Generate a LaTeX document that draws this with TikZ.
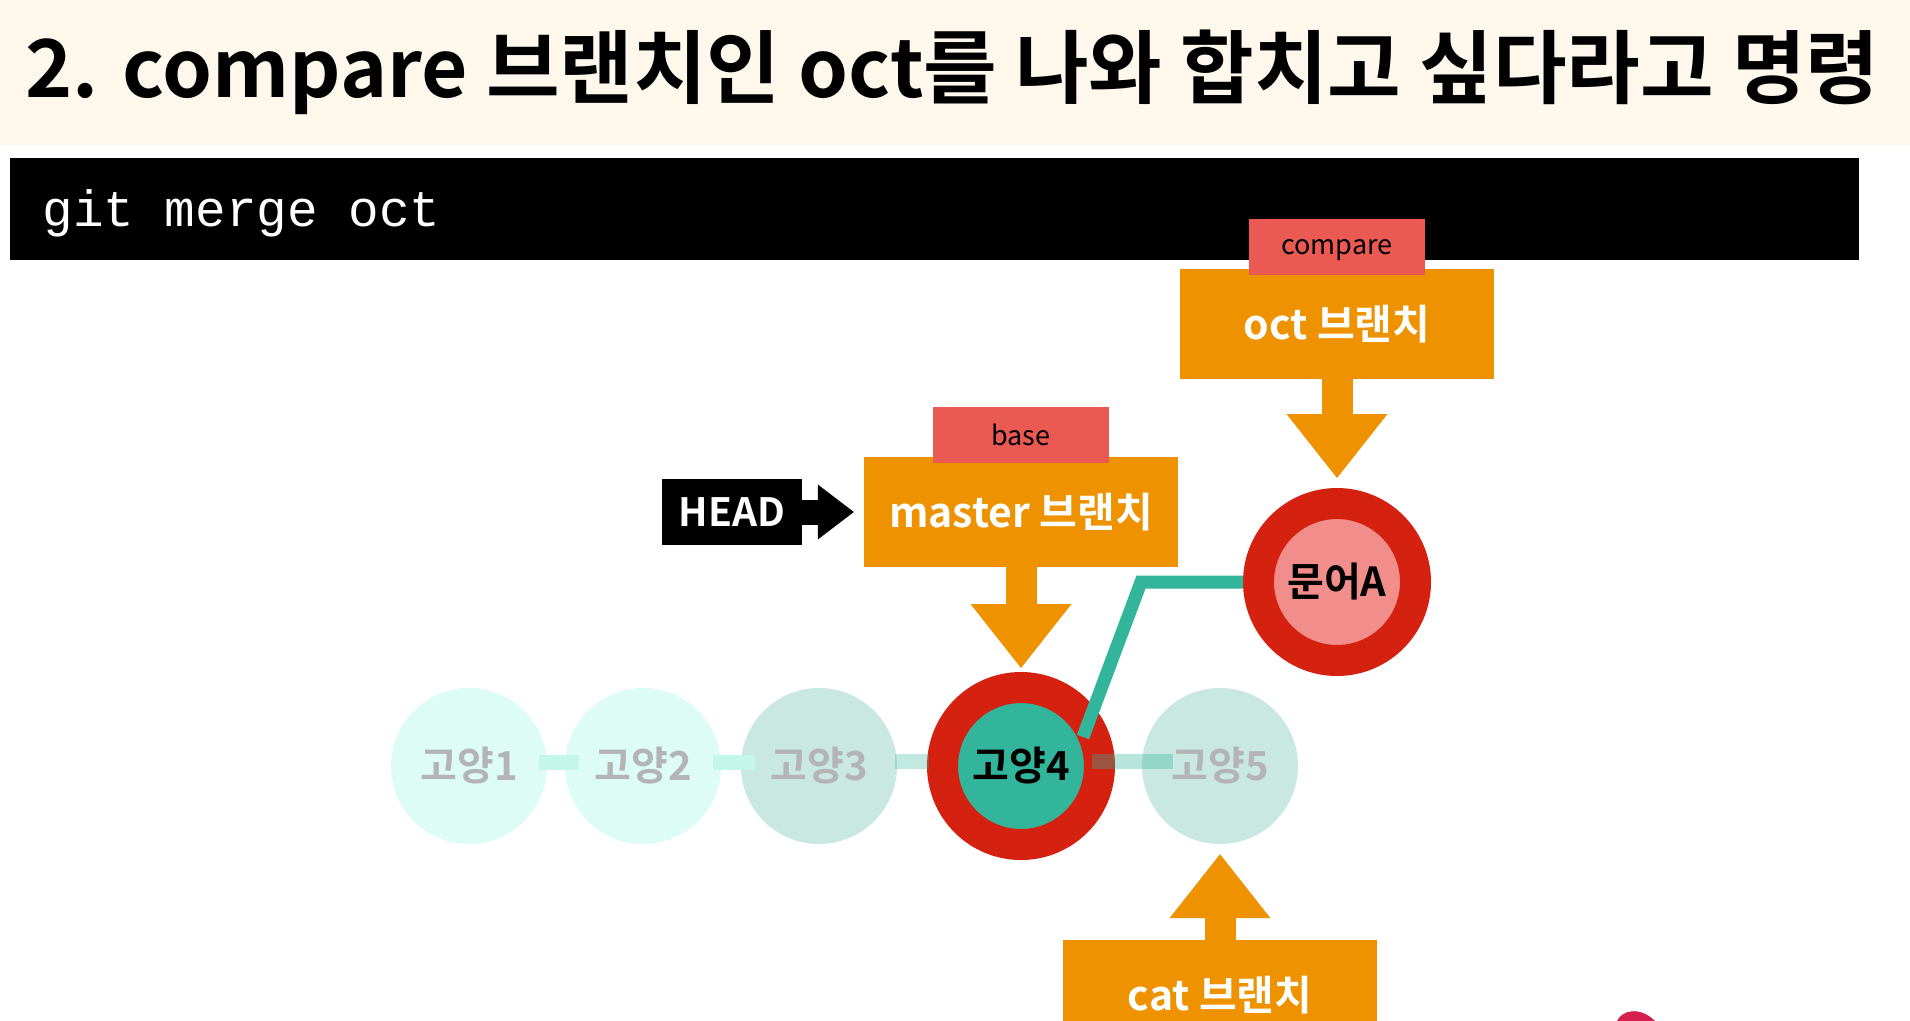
\documentclass[tikz,border=0pt]{standalone}
\usepackage{fontspec}
\setmainfont{Noto Sans CJK KR}[BoldFont={Noto Sans CJK KR Bold}]
\newfontfamily\codefont{Liberation Mono}
\usepackage{tikz}
\usetikzlibrary{positioning,arrows.meta}
\definecolor{cream}{HTML}{FEF8EC}
\definecolor{branchorange}{HTML}{EF9200}
\definecolor{rolered}{HTML}{EB5A52}
\definecolor{ringred}{HTML}{D52110}
\definecolor{mergeteal}{HTML}{33B59C}
\definecolor{octopink}{HTML}{F18D8A}
\definecolor{oldmint}{HTML}{DCFCF5}
\definecolor{fadeteal}{HTML}{C9E8E1}
\definecolor{fadegray}{HTML}{B4B4B4}
\definecolor{linkmint}{HTML}{C3F7EA}
\definecolor{logored}{HTML}{D61F4F}
\tikzstyle{commit} = [circle, inner sep=0pt, minimum size=156pt, font={\bfseries\fontsize{40}{48}\selectfont}]
\tikzstyle{old} = [fill=oldmint, text=fadegray]
\tikzstyle{later} = [fill=fadeteal, text=fadegray]
\tikzstyle{picked} = [draw=ringred, line width=31pt, minimum size=157pt, text=black]
\tikzstyle{branchbox} = [fill=branchorange, text=white, minimum width=314pt, minimum height=110pt, font={\bfseries\fontsize{41}{48}\selectfont}]
\tikzstyle{rolebox} = [fill=rolered, text=black, minimum width=176pt, minimum height=56pt, text depth=0pt, font={\fontsize{27}{32}\selectfont}]
\tikzstyle{headbox} = [fill=black, text=white, minimum width=140pt, minimum height=66pt, font={\bfseries\fontsize{39}{46}\selectfont}]
\tikzstyle{fat} = [draw=branchorange, line width=31pt, -{Triangle[length=64pt,width=101pt,line width=0pt]}]
\tikzstyle{pointer} = [draw=black, line width=25pt, -{Triangle[length=36pt,width=55pt,line width=0pt]}]
\tikzstyle{link} = [draw=linkmint, line width=15pt, shorten <=-8pt, shorten >=-14pt]
\tikzstyle{mergeline} = [draw=mergeteal, line width=13pt, line join=miter]

\begin{document}
\begin{tikzpicture}[x=1pt,y=-1pt]
        \useasboundingbox[fill=white] (0,0) rectangle (1910,1020);
        \fill[cream] (0,0) rectangle (1910,145);
        \node[anchor=base west,font={\bfseries\fontsize{80}{94}\selectfont}](title) at (22,97){2. compare 브랜치인 oct를 나와 합치고 싶다라고 명령};
        \fill[black] (10,158) rectangle (1859,260);
        \node[anchor=base west,text=white,font={\codefont\fontsize{51}{60}\selectfont}](cmd) at (39,226){git merge oct};
        \node[commit,old](c1) at (469,766){고양1};
        \node[commit,old](c2) at (643,766){고양2};
        \node[commit,later](c3) at (819,766){고양3};
        \node[commit,picked,fill=mergeteal](c4) at (1021,766){고양4};
        \node[commit,later](c5) at (1220,766){고양5};
        \draw[link]([yshift=4pt]c1.east)--([yshift=4pt]c2.west);
        \draw[link]([yshift=4pt]c2.east)--([yshift=4pt]c3.west);
        \draw[link,draw=mergeteal,opacity=.3,shorten <=-2pt,shorten >=-2pt]([yshift=5pt]c3.east)--([yshift=5pt]c4.west);
        \draw[link,draw=mergeteal,opacity=.35,shorten <=-23pt,shorten >=-31pt]([yshift=5pt]c4.east)--([yshift=5pt]c5.west);
        \node[commit,picked,fill=octopink](octa) at (1337,582){문어A};
        \coordinate(g4tip) at (1083,737);
        \coordinate(bend) at (1141,582);
        \draw[mergeline](g4tip)--(bend)--(octa.west);
        \node[branchbox](oct) at (1337,324){oct 브랜치};
        \node[rolebox,above=-6pt of oct](cmp){compare};
        \node[branchbox](master) at (1021,512){master 브랜치};
        \node[rolebox,above=-6pt of master](base){base};
        \node[branchbox](cat) at (1220,995){cat 브랜치};
        \node[headbox](head) at (732,512){HEAD};
        \draw[fat,shorten >=10pt](oct)--(octa);
        \draw[fat,shorten >=4pt](master)--(c4);
        \draw[fat,shorten >=10pt](cat)--(c5);
        \draw[pointer,shorten >=10pt](head)--(master);
        \fill[logored] (1617,1021) .. controls (1622,1010) and (1640,1006) .. (1655,1021) -- cycle;
      \end{tikzpicture}
\end{document}
